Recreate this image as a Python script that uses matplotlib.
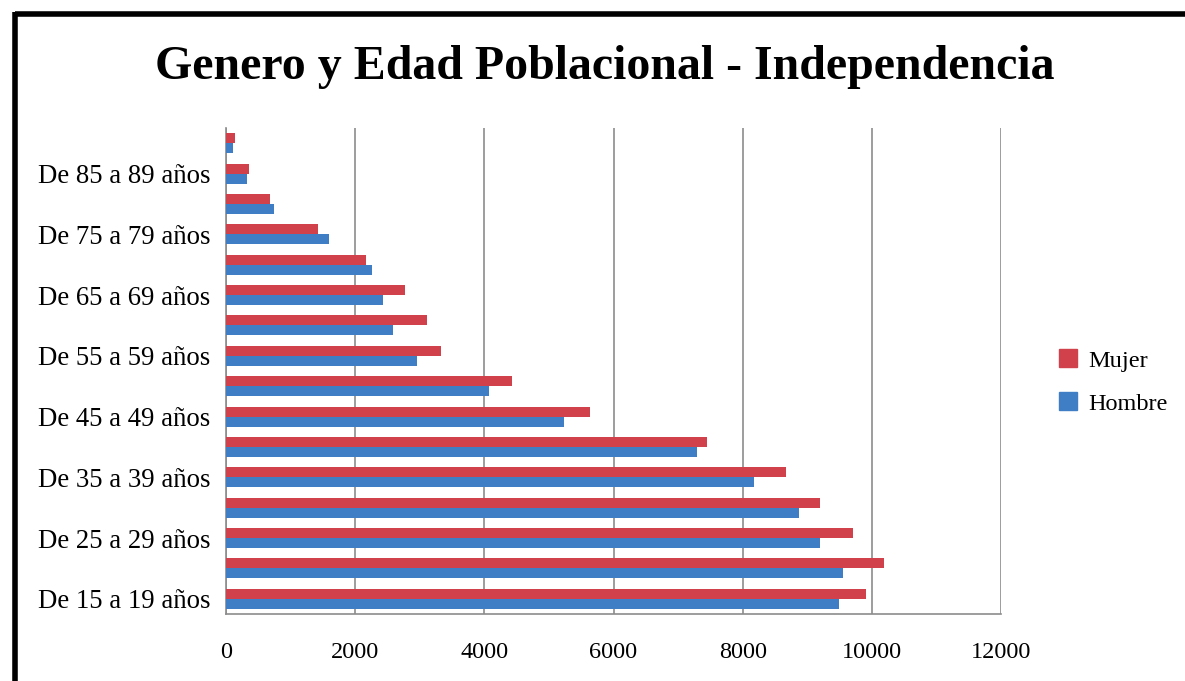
import matplotlib.pyplot as plt
import numpy as np
from matplotlib.lines import Line2D

categorias = ["De 15 a 19 años", "De 20 a 24 años", "De 25 a 29 años", "De 30 a 34 años",
              "De 35 a 39 años", "De 40 a 44 años", "De 45 a 49 años", "De 50 a 54 años",
              "De 55 a 59 años", "De 60 a 64 años", "De 65 a 69 años", "De 70 a 74 años",
              "De 75 a 79 años", "De 80 a 84 años", "De 85 a 89 años", "De 90 años y más"]
hombre = [9493, 9556, 9191, 8871, 8178, 7300, 5240, 4072, 2955, 2586, 2435, 2258, 1593, 737, 325, 103]
mujer = [9911, 10196, 9707, 9191, 8665, 7450, 5630, 4425, 3327, 3105, 2778, 2175, 1428, 686, 356, 144]
xticks = [0, 2000, 4000, 6000, 8000, 10000, 12000]

rojo = '#D0414B'
azul = '#3F7DC5'
gris = '#8C8C8C'

plt.rcParams['font.family'] = ['Liberation Serif', 'DejaVu Serif']

fig = plt.figure(figsize=(11.85, 6.81), dpi=100)
ax = fig.add_axes([226 / 1185, 1 - 614 / 681, 775 / 1185, 486 / 681])

y = np.arange(len(categorias))
h = 0.33
ax.barh(y - h / 2, hombre, height=h, color=azul, label='Hombre', zorder=3)
ax.barh(y + h / 2, mujer, height=h, color=rojo, label='Mujer', zorder=3)

ax.set_xlim(0, 12000)
ax.set_ylim(-0.5, len(categorias) - 0.5)
ax.set_xticks(xticks)
ax.set_xticklabels([str(v) for v in xticks], fontsize=17.5)
ax.set_yticks(y[::2])
ax.set_yticklabels(categorias[::2], fontsize=19.3)
ax.tick_params(axis='both', length=0)
ax.tick_params(axis='x', pad=20)
ax.tick_params(axis='y', pad=11)
ax.grid(axis='x', color=gris, linewidth=1.2, zorder=0)
for s in ['top', 'right']:
    ax.spines[s].set_visible(False)
for s in ['left', 'bottom']:
    ax.spines[s].set_color(gris)
    ax.spines[s].set_linewidth(1.2)

handles = [plt.Rectangle((0, 0), 1, 1, color=rojo), plt.Rectangle((0, 0), 1, 1, color=azul)]
fig.legend(handles, ['Mujer', 'Hombre'], loc='center left', bbox_to_anchor=(1037 / 1185, 1 - 382 / 681),
           frameon=False, fontsize=17.5, handlelength=0.75, handleheight=0.75, handletextpad=0.45,
           labelspacing=0.85)

fig.text(605 / 1185, 1 - 67 / 681, 'Genero y Edad Poblacional - Independencia',
         ha='center', va='center', fontsize=34.5, fontweight='bold')

# marco negro (arriba e izquierda)
fig.add_artist(Line2D([15 / 1185, 1], [1 - 14 / 681, 1 - 14 / 681], color='black', linewidth=4,
                      transform=fig.transFigure, solid_capstyle='butt'))
fig.add_artist(Line2D([15 / 1185, 15 / 1185], [1 - 12 / 681, 0], color='black', linewidth=4,
                      transform=fig.transFigure, solid_capstyle='butt'))

fig.savefig('out.png', dpi=100)
